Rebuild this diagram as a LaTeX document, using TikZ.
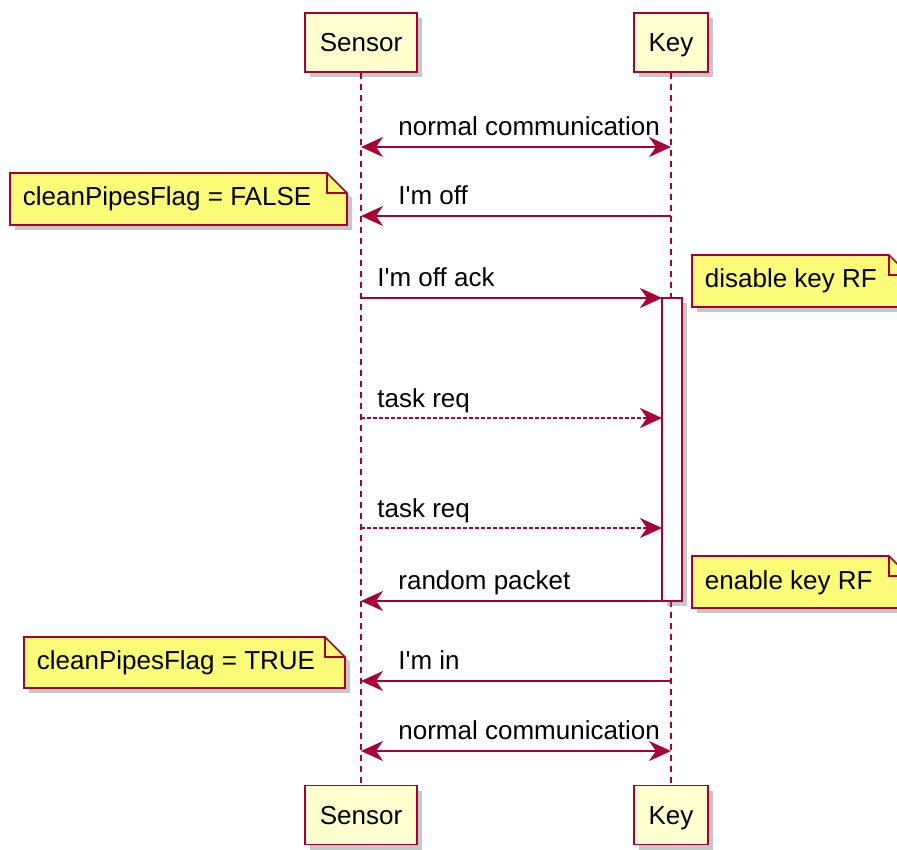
\documentclass[tikz,border=0pt]{standalone}
\usepackage{fontspec}
\setmainfont{Liberation Sans}[Ligatures=TeXOff]
\usetikzlibrary{arrows.meta,shadows}

\definecolor{UmlRed}{HTML}{A80036}
\definecolor{UmlBox}{HTML}{FEFECE}
\definecolor{UmlNote}{HTML}{FBFB77}

\tikzset{
  umlshadow/.style={drop shadow={shadow xshift=2.5pt,shadow yshift=-2.5pt,fill=black!55,opacity=0.4}},
  actor/.style={draw=UmlRed,fill=UmlBox,line width=0.8pt,inner sep=0pt,minimum height=29.5pt,text height=9.5pt,text depth=0pt,umlshadow,font=\fontsize{13}{15}\selectfont},
  lifeline/.style={draw=UmlRed,line width=0.9pt,dash pattern=on 3pt off 2.5pt},
  msg/.style={draw=UmlRed,line width=0.8pt},
  async/.style={msg,dash pattern=on 1.8pt off 1.2pt},
  lbl/.style={anchor=base west,inner sep=0pt,font=\fontsize{13}{15}\selectfont},
  note/.style={draw=UmlRed,fill=UmlNote,line width=0.8pt,umlshadow},
  notefold/.style={draw=UmlRed,line width=0.8pt},
  actbar/.style={draw=UmlRed,fill=white,line width=0.8pt,inner sep=0pt,outer sep=0pt,minimum width=10pt,minimum height=151.5pt,umlshadow}
}

% note with a folded top right corner: name, x1, y1, x2, y2, text
\newcommand\umlnote[6]{%
  \filldraw[note] (#2,#3) -- (#4-20,#3) -- (#4,#3+20) -- (#4,#5) -- (#2,#5) -- cycle;
  \draw[notefold] (#4-20,#3) -- (#4-20,#3+20) -- (#4,#3+20);
  \node[lbl] (#1) at (#2+12.5,#5-19) {#6};
}

\begin{document}
\begin{tikzpicture}[x=0.5pt,y=-0.5pt,>={Stealth[length=11pt,width=10pt,inset=3.5pt]}]
  \useasboundingbox (0,0) rectangle (897,849);

  % participants
  \node[actor,minimum width=56pt] (sTop) at (361,42.5) {Sensor};
  \node[actor,minimum width=37pt] (kTop) at (671,42.5) {Key};
  \node[actor,minimum width=56pt] (sBot) at (361,815) {Sensor};
  \node[actor,minimum width=37pt] (kBot) at (671,815) {Key};

  % lifelines
  \draw[lifeline] (sTop.south) -- (sBot.north);
  \draw[lifeline] (kTop.south) -- (kBot.north);

  % activation of the key
  \node[actbar] (act) at (672,449.5) {};

  % messages
  \draw[msg,<->] (sTop |- 0,147) -- (kTop |- 0,147);
  \node[lbl] (m1) at (398,135.5) {normal communication};

  \draw[msg,->] (kTop |- 0,216) -- (sTop |- 0,216);
  \node[lbl] (m2) at (398,204.5) {I'm off};

  \draw[msg,->] (sTop |- 0,298) -- (act.north west);
  \node[lbl] (m3) at (377,286.5) {I'm off ack};

  \draw[async,->] (sTop |- 0,418) -- (act.west |- 0,418);
  \node[lbl] (m4) at (377,407) {task req};

  \draw[async,->] (sTop |- 0,528) -- (act.west |- 0,528);
  \node[lbl] (m5) at (377,517) {task req};

  \draw[msg,->] (act.south west) -- (sTop |- 0,601);
  \node[lbl] (m6) at (398,589.5) {random packet};

  \draw[msg,->] (kTop |- 0,681) -- (sTop |- 0,681);
  \node[lbl] (m7) at (398,669.5) {I'm in};

  \draw[msg,<->] (sTop |- 0,751) -- (kTop |- 0,751);
  \node[lbl] (m8) at (398,739.5) {normal communication};

  % notes
  \umlnote{nOff}{10}{173}{347}{225}{cleanPipesFlag = FALSE}
  \umlnote{nDisable}{692}{255}{909}{307}{disable key RF}
  \umlnote{nEnable}{692}{556}{909}{608}{enable key RF}
  \umlnote{nIn}{24}{637}{345}{688}{cleanPipesFlag = TRUE}
\end{tikzpicture}
\end{document}
